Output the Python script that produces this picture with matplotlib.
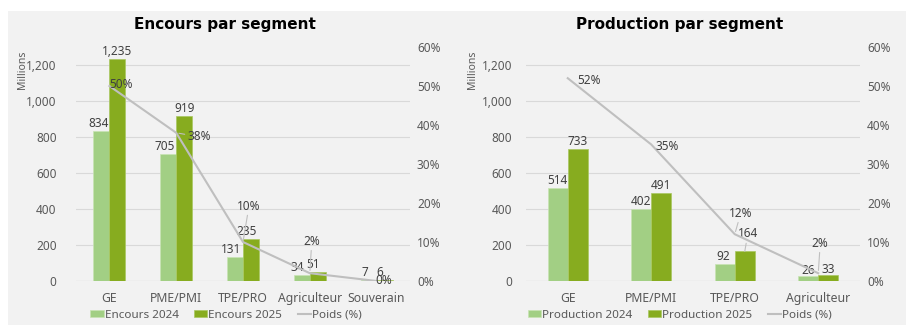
import matplotlib.pyplot as plt
from matplotlib.patches import Rectangle
from matplotlib.ticker import FuncFormatter

plt.rcParams['font.family'] = ['Noto Sans', 'DejaVu Sans']

## data
enc_cats = ['GE', 'PME/PMI', 'TPE/PRO', 'Agriculteur', 'Souverain']
enc_2024 = [834, 705, 131, 34, 7]
enc_2025 = [1235, 919, 235, 51, 6]
enc_poids = [0.50, 0.38, 0.10, 0.02, 0.00]

prod_cats = ['GE', 'PME/PMI', 'TPE/PRO', 'Agriculteur']
prod_2024 = [514, 402, 92, 26]
prod_2025 = [733, 491, 164, 33]
prod_poids = [0.52, 0.35, 0.12, 0.02]

light = '#a2cf84'
dark = '#87ac1f'
line_col = '#bfbfbf'
grid_col = '#d9d9d9'
tick_col = '#595959'
lab_col = '#404040'

W, H = 906, 325
fig = plt.figure(figsize=(W / 100, H / 100), dpi=100)
fig.patch.set_facecolor('white')
fig.patches.append(Rectangle((8 / W, 0), 1 - 8 / W, 1 - 11 / H, transform=fig.transFigure,
                             facecolor='#f2f2f2', edgecolor='none', zorder=-10))


def px(dx, dy):
    # pixel offset -> points
    return (dx * 0.72, dy * 0.72)


def panel(left_px, cats, v24, v25, poids, title, names, bar_off, pct_off, pct_leader, bar_leader,
          title_x, legend_x, ylab_pad):
    ax = fig.add_axes([left_px / W, 44 / H, 334 / W, 234 / H])
    ax.set_facecolor('none')
    ax2 = ax.twinx()
    n = len(cats)
    xs = list(range(n))
    w = 0.24
    b1 = ax.bar([x - w / 2 for x in xs], v24, w, color=light, edgecolor='#c8e3b4', linewidth=0.5,
                label=names[0], zorder=3)
    b2 = ax.bar([x + w / 2 for x in xs], v25, w, color=dark, edgecolor='#a8c860', linewidth=0.5,
                label=names[1], zorder=3)
    ax2.plot(xs, poids, color=line_col, linewidth=1.5, label='Poids (%)', zorder=4)

    ax.set_xlim(-0.5, n - 0.5)
    ax.set_ylim(0, 1300)
    ax2.set_ylim(0, 0.6)
    ax.set_yticks(range(0, 1201, 200))
    ax.yaxis.set_major_formatter(FuncFormatter(lambda v, p: '{:,.0f}'.format(v)))
    ax2.set_yticks([i / 10 for i in range(7)])
    ax2.yaxis.set_major_formatter(FuncFormatter(lambda v, p: '{:.0f}%'.format(v * 100)))
    ax.set_xticks(xs)
    ax.set_xticklabels(cats)
    ax.grid(axis='y', color=grid_col, linewidth=0.8, zorder=0)
    ax.set_axisbelow(True)
    for a in (ax, ax2):
        for s in a.spines.values():
            s.set_visible(False)
        a.tick_params(length=0, colors=tick_col, labelsize=8.5)
    ax.tick_params(axis='x', pad=8, labelsize=8.8)
    ax.tick_params(axis='y', pad=ylab_pad)
    ax2.tick_params(axis='y', pad=5)
    ax.axhline(0, color=grid_col, linewidth=0.8, zorder=1)

    # bar value labels
    for i, (bars, vals) in enumerate(((b1, v24), (b2, v25))):
        for j, (rect, v) in enumerate(zip(bars, vals)):
            cx = rect.get_x() + rect.get_width() / 2
            dx, dy = bar_off[i][j]
            if (i, j) in bar_leader:
                ax.annotate('{:,}'.format(v), (cx, v), xytext=px(dx, dy), textcoords='offset points',
                            ha='center', va='bottom', fontsize=8.5, color=lab_col, zorder=6,
                            arrowprops=dict(arrowstyle='-', color=line_col, lw=0.8,
                                            shrinkA=0, shrinkB=0))
            else:
                ax.annotate('{:,}'.format(v), (cx, v), xytext=px(dx, dy), textcoords='offset points',
                            ha='center', va='bottom', fontsize=8.5, color=lab_col, zorder=6)

    # percentage labels
    for j, p in enumerate(poids):
        dx, dy = pct_off[j]
        kw = {}
        if j in pct_leader:
            kw['arrowprops'] = dict(arrowstyle='-', color=line_col, lw=0.8, shrinkA=0, shrinkB=2)
        ax2.annotate('{:.0f}%'.format(p * 100), (xs[j], p), xytext=px(dx, dy),
                     textcoords='offset points', ha='center', va='center', fontsize=8.5,
                     color=lab_col, zorder=6, **kw)

    fig.text(title_x / W, 1 - 25 / H, title, ha='center', va='center', fontsize=11,
             fontweight='bold', color='black', family='DejaVu Sans')
    fig.text((left_px - 54) / W, 1 - 70 / H, 'Millions', rotation=90, ha='center', va='center',
             fontsize=7.5, color=tick_col)

    h1, l1 = ax.get_legend_handles_labels()
    h2, l2 = ax2.get_legend_handles_labels()
    ax.legend(h1 + h2, l1 + l2, loc='center', bbox_to_anchor=(legend_x / W, 10 / H),
              bbox_transform=fig.transFigure, ncol=3, frameon=False, fontsize=8.4,
              labelcolor=tick_col, handlelength=1.15, handleheight=0.55, handletextpad=0.1,
              columnspacing=1.3, borderpad=0)
    return ax


panel(76, enc_cats, enc_2024, enc_2025, enc_poids, 'Encours par segment',
      ['Encours 2024', 'Encours 2025'],
      bar_off=[[(-3, 1), (-3, 1), (-4, 1), (-5, 1), (-4, 1)],
               [(0, 1), (0, 1), (-4, 1), (-5, 1), (-5, 1)]],
      pct_off=[(12, 2), (23, -4), (6, 36), (2, 32), (7, 0)],
      pct_leader=[1, 2, 3], bar_leader=[],
      title_x=225, legend_x=226, ylab_pad=14)

panel(526, prod_cats, prod_2024, prod_2025, prod_poids, 'Production par segment',
      ['Production 2024', 'Production 2025'],
      bar_off=[[(0, 1), (0, 1), (-1, 1), (0, -1)],
               [(0, 1), (0, 1), (3, 11), (0, -1)]],
      pct_off=[(21, -2), (16, -2.5), (6, 21), (2, 30)],
      pct_leader=[2, 3], bar_leader=[(1, 2)],
      title_x=680, legend_x=680, ylab_pad=10)

fig.savefig('out.png', dpi=100, facecolor=fig.get_facecolor())
